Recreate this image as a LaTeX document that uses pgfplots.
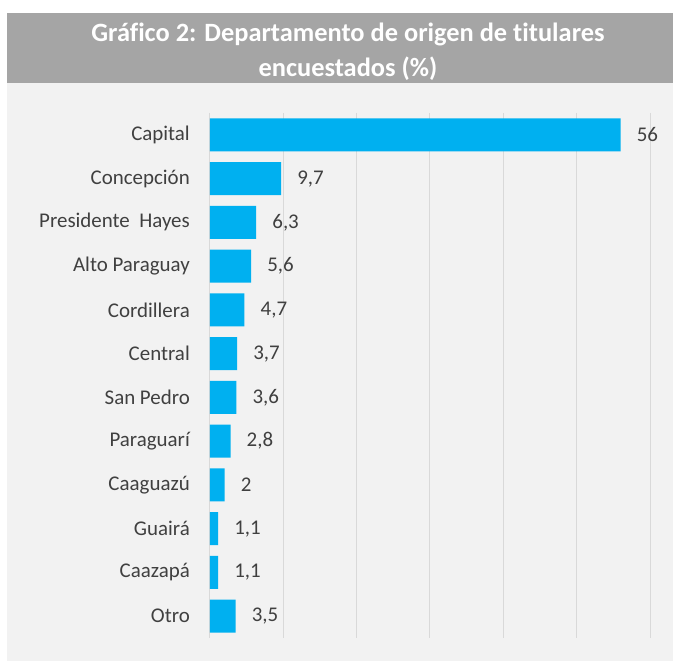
\documentclass[border=0pt]{standalone}
\usepackage{fontspec}
\setmainfont{Carlito}[Ligatures=NoCommon]
\usepackage{pgfplots}
\pgfplotsset{compat=1.18}
\definecolor{barblue}{HTML}{00B0F0}
\definecolor{titlegray}{HTML}{A5A5A5}
\definecolor{bggray}{HTML}{F2F2F2}
\definecolor{txt}{HTML}{404040}
\definecolor{gridc}{HTML}{D9D9D9}
\begin{document}
\begin{tikzpicture}[x=1bp,y=1bp]
\fill[white] (-210,-23) rectangle (463,638);
\fill[bggray] (-203,-23) rectangle (463,555);
\fill[titlegray] (-203,555) rectangle (463,625);
\node[white, font=\fontsize{26.5}{35}\bfseries\selectfont, align=center, inner sep=0] at (138,586) {Gráfico 2: Departamento de origen de titulares\\encuestados (\%)};
\begin{axis}[
  at={(0,0)}, anchor=south west, scale only axis,
  width=440bp, height=525bp,
  xmin=0, xmax=60, ymin=-0.5, ymax=11.5,
  y dir=reverse,
  xbar, bar width=33bp,
  axis line style={draw=none},
  major tick length=0pt,
  xtick={0,10,...,60}, xticklabels={},
  xmajorgrids, grid style={gridc, line width=1bp},
  ytick={0,...,11},
  yticklabels={Capital,Concepción,Presidente\ \ Hayes,Alto Paraguay,Cordillera,Central,San Pedro,Paraguarí,Caaguazú,Guairá,Caazapá,Otro},
  yticklabel style={font=\fontsize{21}{24}\selectfont, text=txt, inner sep=0pt, xshift=-20bp},
  /pgf/number format/assume math mode=true,
  /pgf/number format/use comma,
  nodes near coords,
  nodes near coords style={font=\fontsize{21}{24}\selectfont, text=txt, anchor=west, inner sep=0pt, xshift=16bp},
]
\addplot[fill=barblue, draw=none] coordinates {
(56,0) (9.7,1) (6.3,2) (5.6,3) (4.7,4) (3.7,5) (3.6,6) (2.8,7) (2,8) (1.1,9) (1.1,10) (3.5,11)
};
\end{axis}
\end{tikzpicture}
\end{document}
